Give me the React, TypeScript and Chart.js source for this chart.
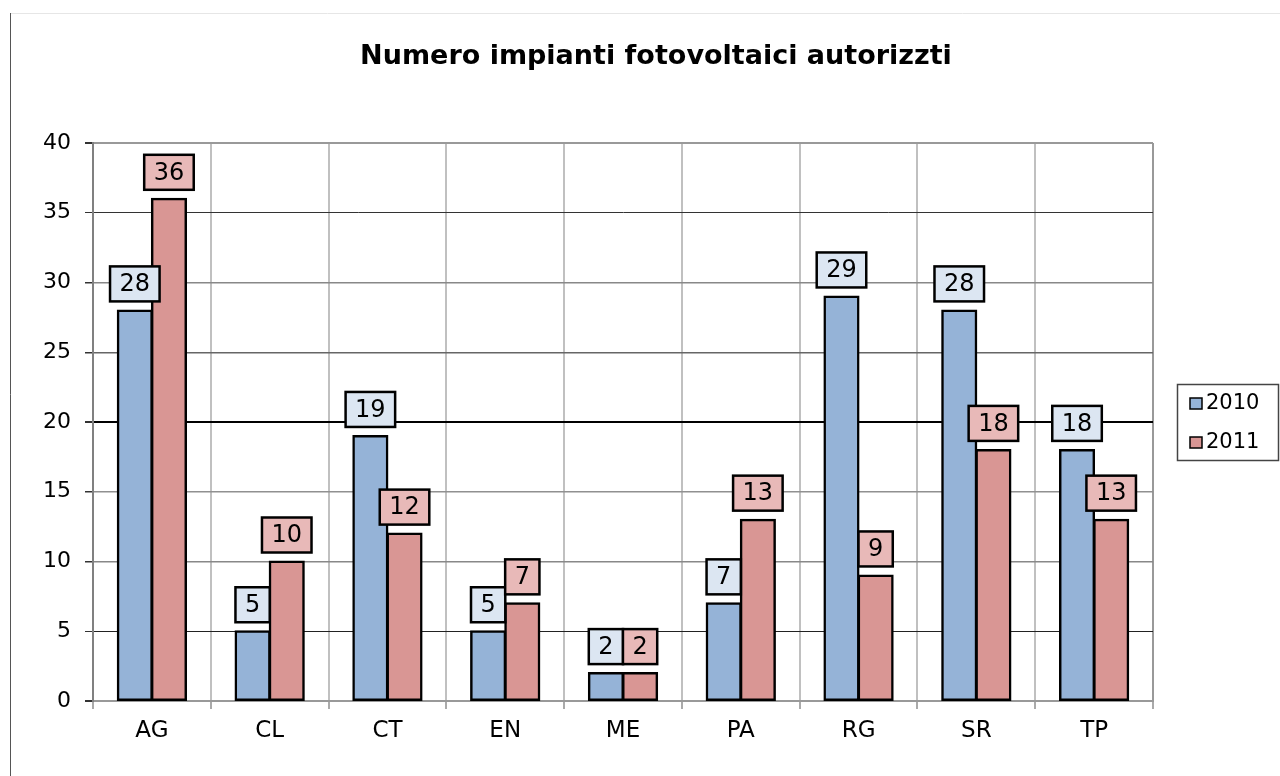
import React, { useEffect, useRef } from "react";
import { Chart, registerables } from "chart.js";

Chart.register(...registerables);

const TITLE = "Numero impianti fotovoltaici autorizzti";
const categories = ["AG", "CL", "CT", "EN", "ME", "PA", "RG", "SR", "TP"];
const seriesNames = ["2010", "2011"];
const values2010 = [28, 5, 19, 5, 2, 7, 29, 28, 18];
const values2011 = [36, 10, 12, 7, 2, 13, 9, 18, 13];
const barColors = ["#95b3d7", "#d99694"];
const labelFills = ["#dce6f2", "#e8b9b8"];
const yMin = 0;
const yMax = 40;
const yStep = 5;

const gridColorByValue: Record<number, string> = {
  0: "#999999",
  5: "#222222",
  10: "#888888",
  15: "#909090",
  20: "#000000",
  25: "#666666",
  30: "#888888",
  35: "#333333",
  40: "#999999",
};

const FONT = "'DejaVu Sans', 'Liberation Sans', Arial, sans-serif";

const decorPlugin = {
  id: "decor",
  beforeDraw(chart: any) {
    const ctx = chart.ctx;
    ctx.save();
    ctx.fillStyle = "#ffffff";
    ctx.fillRect(0, 0, chart.width, chart.height);
    ctx.strokeStyle = "#e6e6e6";
    ctx.lineWidth = 1;
    ctx.beginPath();
    ctx.moveTo(10, 13.5);
    ctx.lineTo(chart.width, 13.5);
    ctx.stroke();
    ctx.strokeStyle = "#555555";
    ctx.beginPath();
    ctx.moveTo(10.5, 13);
    ctx.lineTo(10.5, chart.height);
    ctx.stroke();
    ctx.restore();
  },
  afterDraw(chart: any) {
    const ctx = chart.ctx;
    ctx.save();
    // title
    ctx.fillStyle = "#000";
    ctx.font = `bold 27px ${FONT}`;
    ctx.textAlign = "center";
    ctx.textBaseline = "middle";
    ctx.fillText(TITLE, 656, 57);
    // legend
    ctx.strokeStyle = "#444";
    ctx.lineWidth = 1.5;
    ctx.strokeRect(1177.5, 384.5, 101, 76);
    const items = chart.data.datasets;
    items.forEach((ds: any, i: number) => {
      const cy = 403 + i * 39;
      ctx.fillStyle = ds.backgroundColor;
      ctx.fillRect(1190, cy - 5, 12, 11);
      ctx.strokeStyle = "#000";
      ctx.lineWidth = 1.5;
      ctx.strokeRect(1190, cy - 5, 12, 11);
      ctx.fillStyle = "#000";
      ctx.font = `21px ${FONT}`;
      ctx.textAlign = "left";
      ctx.textBaseline = "middle";
      ctx.fillText(ds.label, 1206, cy + 1);
    });
    ctx.restore();
  },
};

const dataLabelPlugin = {
  id: "dataLabels",
  afterDatasetsDraw(chart: any) {
    const ctx = chart.ctx;
    ctx.save();
    ctx.font = `24px ${FONT}`;
    ctx.textAlign = "center";
    ctx.textBaseline = "middle";
    chart.data.datasets.forEach((ds: any, di: number) => {
      const meta = chart.getDatasetMeta(di);
      meta.data.forEach((el: any, i: number) => {
        const text = String(ds.data[i]);
        const w = ctx.measureText(text).width + 19;
        const h = 35;
        const bottom = el.y - 9;
        const left = el.x - w / 2;
        const top = bottom - h;
        ctx.fillStyle = labelFills[di];
        ctx.fillRect(left, top, w, h);
        ctx.strokeStyle = "#000";
        ctx.lineWidth = 2.5;
        ctx.strokeRect(left, top, w, h);
        ctx.fillStyle = "#000";
        ctx.fillText(text, el.x, top + h / 2 + 1);
      });
    });
    ctx.restore();
  },
};

export default function App() {
  const ref = useRef<HTMLCanvasElement | null>(null);
  useEffect(() => {
    if (!ref.current) return;
    const chart = new Chart(ref.current, {
      type: "bar",
      data: {
        labels: categories,
        datasets: [
          {
            label: seriesNames[0],
            data: values2010,
            backgroundColor: barColors[0],
            borderColor: "#000",
            borderWidth: 2.5,
            borderSkipped: false,
            inflateAmount: 1,
          },
          {
            label: seriesNames[1],
            data: values2011,
            backgroundColor: barColors[1],
            borderColor: "#000",
            borderWidth: 2.5,
            borderSkipped: false,
            inflateAmount: 1,
          },
        ],
      },
      options: {
        responsive: false,
        animation: false,
        layout: { padding: { left: 0, top: 143, right: 127, bottom: 0 } },
        datasets: { bar: { barPercentage: 1, categoryPercentage: 0.58 } },
        plugins: {
          legend: { display: false },
          title: { display: false },
          tooltip: { enabled: false },
        },
        scales: {
          x: {
            afterFit(scale: any) {
              scale.height = 75;
            },
            grid: {
              offset: true,
              color: (c: any) => (c.type === "scale" ? "#999999" : "#c0c0c0"),
              lineWidth: 2,
              tickLength: 8,
              tickColor: "#aaaaaa",
            },
            border: { display: true, color: "#999999", width: 2 },
            ticks: {
              color: "#000",
              font: { family: FONT, size: 23 },
              padding: 8,
            },
          },
          y: {
            min: yMin,
            max: yMax,
            afterFit(scale: any) {
              scale.width = 93;
            },
            grid: {
              color: (c: any) => gridColorByValue[c.tick?.value] ?? "#888",
              lineWidth: (c: any) => {
                const v = c.tick?.value;
                if (v === 20 || v === 40 || v === 0) return 2;
                if (v === 5 || v === 35) return 1;
                return 1.5;
              },
              tickLength: 8,
              tickColor: "#333333",
            },
            border: { display: true, color: "#808080", width: 2 },
            ticks: {
              stepSize: yStep,
              color: "#000",
              font: { family: FONT, size: 22 },
              padding: 14,
            },
          },
        },
      },
      plugins: [decorPlugin, dataLabelPlugin],
    });
    return () => chart.destroy();
  }, []);
  return (
    <div style={{ position: "fixed", left: 0, top: 0, width: 1280, height: 776 }}>
      <canvas ref={ref} width={1280} height={776} />
    </div>
  );
}
